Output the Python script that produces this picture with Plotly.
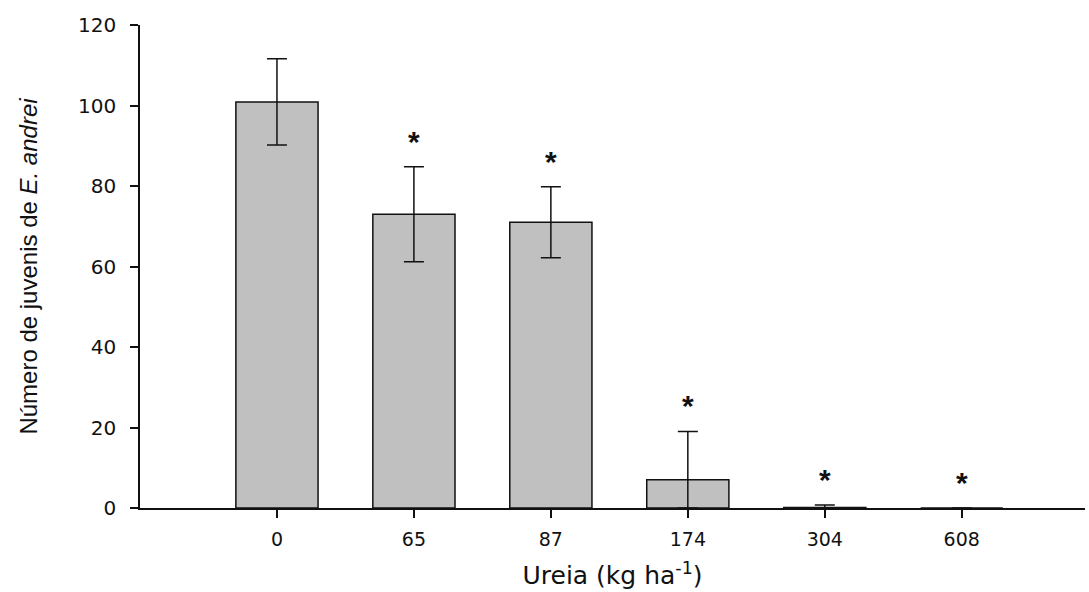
import plotly.graph_objects as go

categories = ["0", "65", "87", "174", "304", "608"]
means = [100.9, 73.0, 71.0, 7.0, 0.15, 0.0]
errors = [10.7, 11.8, 8.8, 12.0, 0.6, 0.0]
significant = [False, True, True, True, True, True]
y_ticks = [0, 20, 40, 60, 80, 100, 120]

xpos = list(range(len(categories)))
err_minus = [min(e, m) for e, m in zip(errors, means)]

star_offset = 5.6
star_x = [x for x, s in zip(xpos, significant) if s]
star_y = [m + e + star_offset for m, e, s in zip(means, errors, significant) if s]

fig = go.Figure()
fig.add_trace(go.Bar(
    x=xpos, y=means, width=0.6,
    marker=dict(color="#c0c0c0", line=dict(color="#111111", width=1.5)),
    error_y=dict(type="data", array=errors, arrayminus=err_minus, visible=True,
                 color="#111111", thickness=1.5, width=10),
    showlegend=False,
))
fig.add_trace(go.Scatter(
    x=star_x, y=star_y, mode="text", text=["<b>*</b>"] * len(star_x),
    textfont=dict(family="Liberation Sans, Arial", size=30, color="#111111"),
    textposition="middle center", showlegend=False, hoverinfo="skip",
))

fig.update_layout(
    width=1089, height=592,
    margin=dict(l=140, r=4, t=25, b=84),
    plot_bgcolor="white", paper_bgcolor="white",
    font=dict(family="DejaVu Sans", color="#111111"),
    bargap=0.4,
)
fig.update_xaxes(
    range=[-1, 5.9], tickvals=xpos, ticktext=categories,
    showline=True, linecolor="#111111", linewidth=1.5,
    ticks="outside", ticklen=8, tickwidth=1.5, tickcolor="#111111",
    ticklabelstandoff=5,
    showgrid=False, zeroline=False,
    tickfont=dict(family="DejaVu Sans", size=19, color="#111111"),
    title=dict(text="Ureia (kg ha<sup>-1</sup>)",
               font=dict(family="DejaVu Sans", size=25, color="#111111"), standoff=18),
)
fig.update_yaxes(
    range=[0, 120], tickvals=y_ticks,
    showline=True, linecolor="#111111", linewidth=1.5,
    ticks="outside", ticklen=8, tickwidth=1.5, tickcolor="#111111",
    ticklabelstandoff=10,
    showgrid=False, zeroline=False,
    tickfont=dict(family="DejaVu Sans", size=20, color="#111111"),
    title=dict(text="Número de juvenis de <i>E. andrei</i>",
               font=dict(family="Liberation Sans Narrow, Liberation Sans", size=24, color="#111111"),
               standoff=34),
)

fig.write_html("out.html")
